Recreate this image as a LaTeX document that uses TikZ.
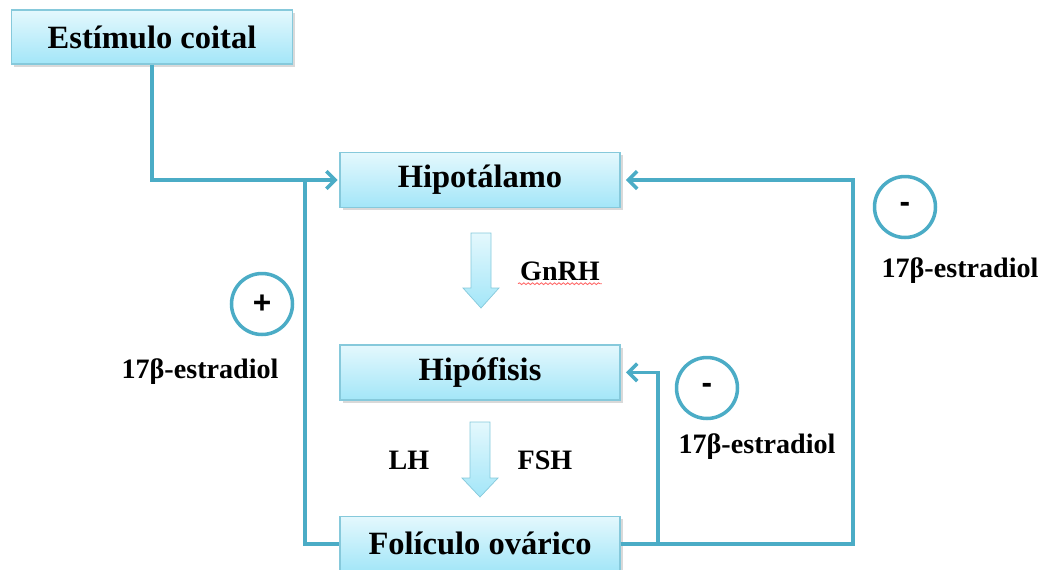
\documentclass[tikz,border=0pt]{standalone}
\usepackage{fontspec}
\setmainfont{Liberation Serif}
\newfontfamily\signofont{Liberation Sans}
\usetikzlibrary{arrows.meta, positioning, shadows, decorations.pathmorphing}
\definecolor{linea}{HTML}{4BACC6}
\definecolor{cajaborde}{HTML}{86C9DB}
\definecolor{cajaarriba}{HTML}{E4F8FD}
\definecolor{cajaabajo}{HTML}{A3E6F8}

\begin{document}
\begin{tikzpicture}[
            x=0.02cm, y=-0.02cm,
            caja/.style={rectangle, draw=cajaborde, thick,
            top color=cajaarriba, bottom color=cajaabajo,
            minimum width=5.6cm, minimum height=1.1cm,
            font=\fontsize{18.5}{22}\selectfont\bfseries,
            drop shadow={shadow xshift=1.5pt, shadow yshift=-1.5pt, opacity=0.3}},
            lbl/.style={font=\fontsize{16}{19}\selectfont\bfseries, inner sep=1pt},
            signo/.style={circle, draw=linea, line width=2pt, minimum size=1.22cm,
            inner sep=0pt, font=\signofont\fontsize{18}{22}\selectfont\bfseries},
            flujo/.style={draw=linea, line width=2pt},
            punta/.style={flujo, -{Straight Barb[length=5pt, width=10pt]}},
            bloque/.style={draw=cajaborde, thin, top color=cajaarriba, bottom color=cajaabajo}
        ]
\useasboundingbox (0,0) rectangle (1046,569);

% ----- Cajas -----
            \node[caja, minimum width=5.62cm, minimum height=1.08cm] (est) at (152,37) {Estímulo coital};
            \node[caja] (hipo) at (480,180) {Hipotálamo};
            \node[caja, below=2.72cm of hipo] (hipof) {Hipófisis};
            \node[caja, below=2.3cm of hipof] (fol) {Folículo ovárico};

% ----- Flechas de bloque -----
            \shadedraw[bloque] (471,233) -- (491,233) -- (491,288) -- (499,288) -- (481,308)
                -- (463,288) -- (471,288) -- cycle;
            \shadedraw[bloque] (470,422) -- (490,422) -- (490,478) -- (498,478) -- (480,497)
                -- (462,478) -- (470,478) -- cycle;

% ----- Hormonas -----
            \node[lbl] (gnrh) at (560,271) {GnRH};
            \draw[red!60, line width=0.5pt, decorate, decoration={snake, amplitude=0.5pt, segment length=2.5pt}]
                ([yshift=-2pt]gnrh.base west) -- ([yshift=-2pt]gnrh.base east);
            \node[lbl] (lh) at (409,460) {LH};
            \node[lbl] (fsh) at (545,460) {FSH};

% ----- Retroalimentación -----
            \coordinate (izq) at (305,180);
            \coordinate (rin) at (658,0);
            \coordinate (rout) at (853,0);

            \draw[punta, shorten >=1pt] (est.south) |- (hipo.west);
            \draw[flujo] (fol.west) -| (izq);
            \draw[punta, shorten >=3pt] (fol.east) -| (rin |- hipof.east) -- (hipof.east);
            \draw[punta, shorten >=3pt] (fol.east) -| (rout |- hipo.east) -- (hipo.east);

% signos
            \node[signo] (mas) at (262,304) {+};
            \node[signo] (menos1) at (707,388) {-};
            \node[signo] (menos2) at (905,207) {-};

            \node[lbl] (estr1) at (200,372) {17β-estradiol};
            \node[lbl] (estr2) at (757,447) {17β-estradiol};
            \node[lbl] (estr3) at (960,271) {17β-estradiol};

        \end{tikzpicture}
\end{document}
